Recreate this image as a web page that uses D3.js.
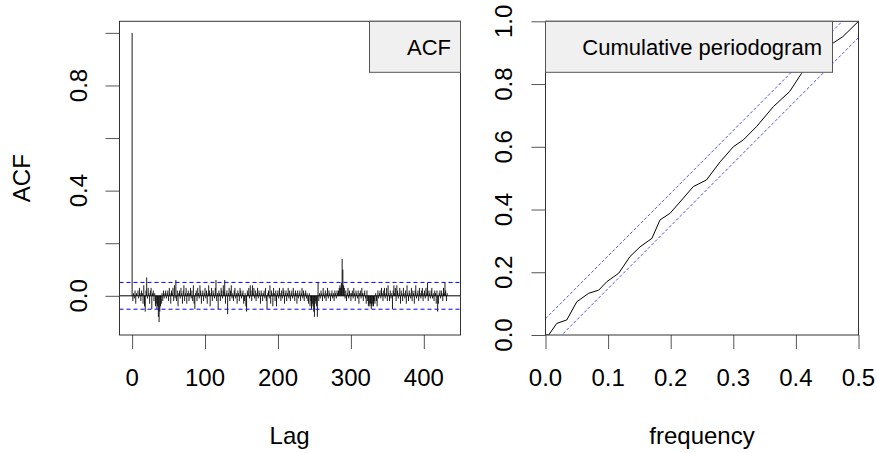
<!DOCTYPE html>
<html>
<head>
<meta charset="utf-8">
<script src="https://cdn.jsdelivr.net/npm/d3@7"></script>
<style>
  body { margin: 0; background: #fff; }
  svg text { font-family: "Liberation Sans", Arial, sans-serif; fill: #000; }
</style>
</head>
<body>
<div id="chart"></div>
<script>
// ACF values, lag 0..433
var acfValues = [
   1.00,-0.02, 0.01,-0.01, 0.02,-0.03, 0.01, 0.00, 0.02,-0.01, 0.03, 0.01,-0.02, 0.02, 0.01,-0.03, 0.04,-0.04,-0.06, 0.02,
   0.07,-0.01, 0.03, 0.01,-0.03, 0.02, 0.03,-0.05, 0.01, 0.02,-0.02, 0.01,-0.04,-0.03,-0.05,-0.04,-0.08,-0.10,-0.06,-0.04,
  -0.03, 0.01,-0.02, 0.02,-0.01, 0.01, 0.02,-0.01, 0.01, 0.02,-0.02, 0.03, 0.01,-0.03, 0.02, 0.01, 0.03,-0.02, 0.04,-0.01,
   0.06,-0.02, 0.02,-0.04, 0.01, 0.02,-0.01, 0.03, 0.01,-0.03, 0.02, 0.04,-0.02, 0.01, 0.03,-0.03, 0.01, 0.02,-0.02, 0.01,
   0.03,-0.01, 0.02,-0.02, 0.04,-0.03,-0.05, 0.01, 0.02,-0.02, 0.03, 0.01,-0.01, 0.04, 0.02,-0.03, 0.01, 0.02,-0.02, 0.01,
   0.03,-0.01, 0.02,-0.03, 0.01, 0.04, 0.02,-0.04, 0.01, 0.03,-0.02, 0.02, 0.01,-0.01, 0.03, 0.06,-0.02, 0.01,-0.05, 0.02,
   0.01,-0.02, 0.03, 0.02,-0.01, 0.04, 0.02, 0.06,-0.03, 0.01, 0.02,-0.07, 0.01, 0.03,-0.02, 0.02, 0.04,-0.01, 0.01,-0.02,
   0.02, 0.03,-0.01, 0.01,-0.03, 0.02, 0.01,-0.02, 0.03, 0.02,-0.01, 0.01, 0.02,-0.03,-0.02, 0.01,-0.04,-0.06, 0.02, 0.01,
   0.03,-0.01, 0.04, 0.02,-0.02, 0.04, 0.01, 0.03,-0.01, 0.02,-0.02, 0.01, 0.03,-0.01, 0.02, 0.01,-0.03, 0.02, 0.01,-0.02,
   0.01, 0.02,-0.01, 0.03,-0.02,-0.05, 0.01, 0.02,-0.01, 0.04,-0.03, 0.02, 0.01,-0.04, 0.03, 0.01,-0.02, 0.02,-0.04, 0.01,
   0.02,-0.01, 0.03, 0.01,-0.02, 0.02,-0.01, 0.03, 0.02,-0.03, 0.01, 0.02,-0.02, 0.01, 0.03,-0.01, 0.02,-0.02, 0.01, 0.02,
  -0.01, 0.03, 0.01,-0.02, 0.02, 0.01,-0.03, 0.02,-0.01, 0.01, 0.02,-0.02, 0.01, 0.03,-0.01, 0.02,-0.02, 0.01, 0.02,-0.01,
   0.01,-0.02,-0.03, 0.01,-0.04,-0.02,-0.05,-0.03,-0.04,-0.06,-0.08,-0.03,-0.02,-0.04,-0.08, 0.05,-0.02, 0.01,-0.01, 0.02,
   0.01,-0.02, 0.03, 0.01,-0.01, 0.02,-0.02, 0.01, 0.03,-0.01, 0.02, 0.01,-0.02, 0.01, 0.02,-0.01, 0.01,-0.02, 0.02, 0.01,
  -0.01, 0.02, 0.01, 0.02, 0.03, 0.04, 0.03, 0.05, 0.14, 0.10, 0.04, 0.03,-0.01, 0.02,-0.02, 0.01, 0.03,-0.01, 0.02, 0.01,
  -0.02, 0.01, 0.02,-0.01, 0.03, 0.01,-0.02, 0.02, 0.01,-0.01, 0.02,-0.03, 0.01, 0.02,-0.01, 0.03, 0.01,-0.02, 0.01, 0.02,
  -0.01,-0.03, 0.02,-0.02,-0.04,-0.03,-0.04,-0.03,-0.05,-0.04,-0.03,-0.04,-0.02,-0.03, 0.01,-0.02,-0.04, 0.02,-0.01, 0.01,
   0.02,-0.01, 0.03, 0.01,-0.02, 0.02, 0.03,-0.01, 0.01, 0.03,-0.02, 0.04, 0.01,-0.02, 0.02,-0.01, 0.01,-0.05, 0.02, 0.04,
   0.01, 0.03,-0.02, 0.04, 0.02,-0.01, 0.01, 0.03,-0.03, 0.02, 0.01,-0.02, 0.03, 0.01,-0.01, 0.02,-0.03, 0.04, 0.01,-0.02,
   0.02, 0.01,-0.01, 0.03,-0.02, 0.02, 0.01,-0.03, 0.02, 0.04,-0.01, 0.01, 0.02,-0.02, 0.03, 0.01,-0.01, 0.02, 0.03,-0.02,
   0.01, 0.02,-0.01, 0.03, 0.01, 0.05,-0.02, 0.02, 0.01,-0.01, 0.02, 0.03,-0.01, 0.01,-0.02, 0.02, 0.01,-0.03, 0.02,-0.06,
  -0.03, 0.01, 0.02,-0.01, 0.02, 0.01,-0.02, 0.03, 0.01, 0.05, 0.02,-0.02, 0.01, 0.00
];
var acfLimit = 0.051;
var lagTicks = [0, 100, 200, 300, 400];
var acfTickMarks = [0, 0.2, 0.4, 0.6, 0.8, 1.0];
var acfTickLabels = [0, 0.4, 0.8];

// cumulative periodogram
var cpFreq  = [0, 0.005, 0.018, 0.034, 0.050, 0.069, 0.085, 0.098, 0.117, 0.135, 0.151, 0.170, 0.183, 0.199,
               0.220, 0.236, 0.257, 0.279, 0.300, 0.316, 0.337, 0.364, 0.390, 0.409, 0.459, 0.475, 0.500];
var cpValue = [0, 0, 0.037, 0.048, 0.106, 0.133, 0.143, 0.170, 0.197, 0.250, 0.281, 0.308, 0.367, 0.388,
               0.436, 0.473, 0.494, 0.552, 0.600, 0.622, 0.664, 0.728, 0.776, 0.834, 0.930, 0.951, 1.000];
var cpCrit = 0.052;
var freqTicks = [0, 0.1, 0.2, 0.3, 0.4, 0.5];
var cpTicks = [0, 0.2, 0.4, 0.6, 0.8, 1.0];

var width = 877, height = 453;
var svg = d3.select("#chart").append("svg")
    .attr("width", width)
    .attr("height", height);

var axisFs = 24, legendFs = 22;
var plotTop = 21.3, plotBottom = 335;

function tickStyle(g) {
    g.select(".domain").remove();
    g.selectAll("line").attr("stroke", "#555");
}

// ---------- left panel: ACF ----------
var xL = d3.scaleLinear().domain([-17.3, 450.3]).range([119.5, 460.5]);
var yL = d3.scaleLinear().domain([-0.149, 1.044]).range([plotBottom, plotTop]);

svg.append("g")
    .attr("transform", "translate(0," + plotBottom + ")")
    .call(d3.axisBottom(xL).tickValues(lagTicks).tickSize(14).tickFormat(""))
    .call(tickStyle);

svg.append("g")
    .attr("transform", "translate(119.5,0)")
    .call(d3.axisLeft(yL).tickValues(acfTickMarks).tickSize(14).tickFormat(""))
    .call(tickStyle);

svg.selectAll(".xlabL").data(lagTicks).enter().append("text")
    .attr("x", function(d) { return xL(d); })
    .attr("y", 386)
    .attr("text-anchor", "middle")
    .style("font-size", axisFs + "px")
    .text(function(d) { return d; });

svg.selectAll(".ylabL").data(acfTickLabels).enter().append("text")
    .attr("transform", function(d) { return "translate(87," + yL(d) + ") rotate(-90)"; })
    .attr("text-anchor", "middle")
    .style("font-size", axisFs + "px")
    .text(function(d) { return d3.format(".1f")(d); });

// zero line and bars
svg.append("line")
    .attr("x1", 119.5).attr("x2", 460.5)
    .attr("y1", yL(0)).attr("y2", yL(0))
    .attr("stroke", "#000").attr("stroke-width", 1);

svg.append("g").selectAll("line").data(acfValues).enter().append("line")
    .attr("x1", function(_, i) { return xL(i); })
    .attr("x2", function(_, i) { return xL(i); })
    .attr("y1", yL(0))
    .attr("y2", function(d) { return yL(d); })
    .attr("stroke", "#000").attr("stroke-width", 0.9);

[acfLimit, -acfLimit].forEach(function(v) {
    svg.append("line")
        .attr("x1", 119.5).attr("x2", 460.5)
        .attr("y1", yL(v)).attr("y2", yL(v))
        .attr("stroke", "#0000ff").attr("stroke-width", 1)
        .attr("stroke-dasharray", "4,3");
});

svg.append("rect")
    .attr("x", 119.5).attr("y", plotTop)
    .attr("width", 341).attr("height", plotBottom - plotTop)
    .attr("fill", "none").attr("stroke", "#333");

// legend
svg.append("rect")
    .attr("x", 369.5).attr("y", plotTop)
    .attr("width", 91).attr("height", 51)
    .attr("fill", "#f0f0f0").attr("stroke", "#555");
svg.append("text")
    .attr("x", 451).attr("y", 55)
    .attr("text-anchor", "end")
    .style("font-size", legendFs + "px")
    .text("ACF");

svg.append("text")
    .attr("x", xL(216)).attr("y", 444)
    .attr("text-anchor", "middle")
    .style("font-size", axisFs + "px")
    .text("Lag");

svg.append("text")
    .attr("transform", "translate(30," + ((plotTop + plotBottom) / 2) + ") rotate(-90)")
    .attr("text-anchor", "middle")
    .style("font-size", axisFs + "px")
    .text("ACF");

// ---------- right panel: cumulative periodogram ----------
var xR = d3.scaleLinear().domain([0, 0.5]).range([545.5, 858.5]);
var yR = d3.scaleLinear().domain([0, 1]).range([plotBottom, plotTop]);

svg.append("defs").append("clipPath").attr("id", "clipR")
    .append("rect")
    .attr("x", 545.5).attr("y", plotTop)
    .attr("width", 313).attr("height", plotBottom - plotTop);

svg.append("g")
    .attr("transform", "translate(0," + plotBottom + ")")
    .call(d3.axisBottom(xR).tickValues(freqTicks).tickSize(14).tickFormat(""))
    .call(tickStyle);

svg.append("g")
    .attr("transform", "translate(545.5,0)")
    .call(d3.axisLeft(yR).tickValues(cpTicks).tickSize(14).tickFormat(""))
    .call(tickStyle);

svg.selectAll(".xlabR").data(freqTicks).enter().append("text")
    .attr("x", function(d) { return xR(d); })
    .attr("y", 386)
    .attr("text-anchor", "middle")
    .style("font-size", axisFs + "px")
    .text(function(d) { return d3.format(".1f")(d); });

svg.selectAll(".ylabR").data(cpTicks).enter().append("text")
    .attr("transform", function(d) { return "translate(512," + yR(d) + ") rotate(-90)"; })
    .attr("text-anchor", "middle")
    .style("font-size", axisFs + "px")
    .text(function(d) { return d3.format(".1f")(d); });

var plotR = svg.append("g").attr("clip-path", "url(#clipR)");

var cpLine = d3.line()
    .x(function(d) { return xR(d[0]); })
    .y(function(d) { return yR(d[1]); });

plotR.append("path")
    .datum(cpFreq.map(function(f, i) { return [f, cpValue[i]]; }))
    .attr("d", cpLine)
    .attr("fill", "none").attr("stroke", "#000").attr("stroke-width", 1);

[cpCrit, -cpCrit].forEach(function(c) {
    plotR.append("path")
        .datum([[0, c], [0.5, 1 + c]])
        .attr("d", cpLine)
        .attr("fill", "none").attr("stroke", "#4d4dff").attr("stroke-width", 1)
        .attr("stroke-dasharray", "3,2");
});

svg.append("rect")
    .attr("x", 545.5).attr("y", plotTop)
    .attr("width", 313).attr("height", plotBottom - plotTop)
    .attr("fill", "none").attr("stroke", "#333");

svg.append("rect")
    .attr("x", 545.5).attr("y", plotTop)
    .attr("width", 287).attr("height", 51)
    .attr("fill", "#f0f0f0").attr("stroke", "#555");
svg.append("text")
    .attr("x", 822).attr("y", 55)
    .attr("text-anchor", "end")
    .style("font-size", legendFs + "px")
    .text("Cumulative periodogram");

svg.append("text")
    .attr("x", xR(0.25)).attr("y", 444)
    .attr("text-anchor", "middle")
    .style("font-size", axisFs + "px")
    .text("frequency");
</script>
</body>
</html>
